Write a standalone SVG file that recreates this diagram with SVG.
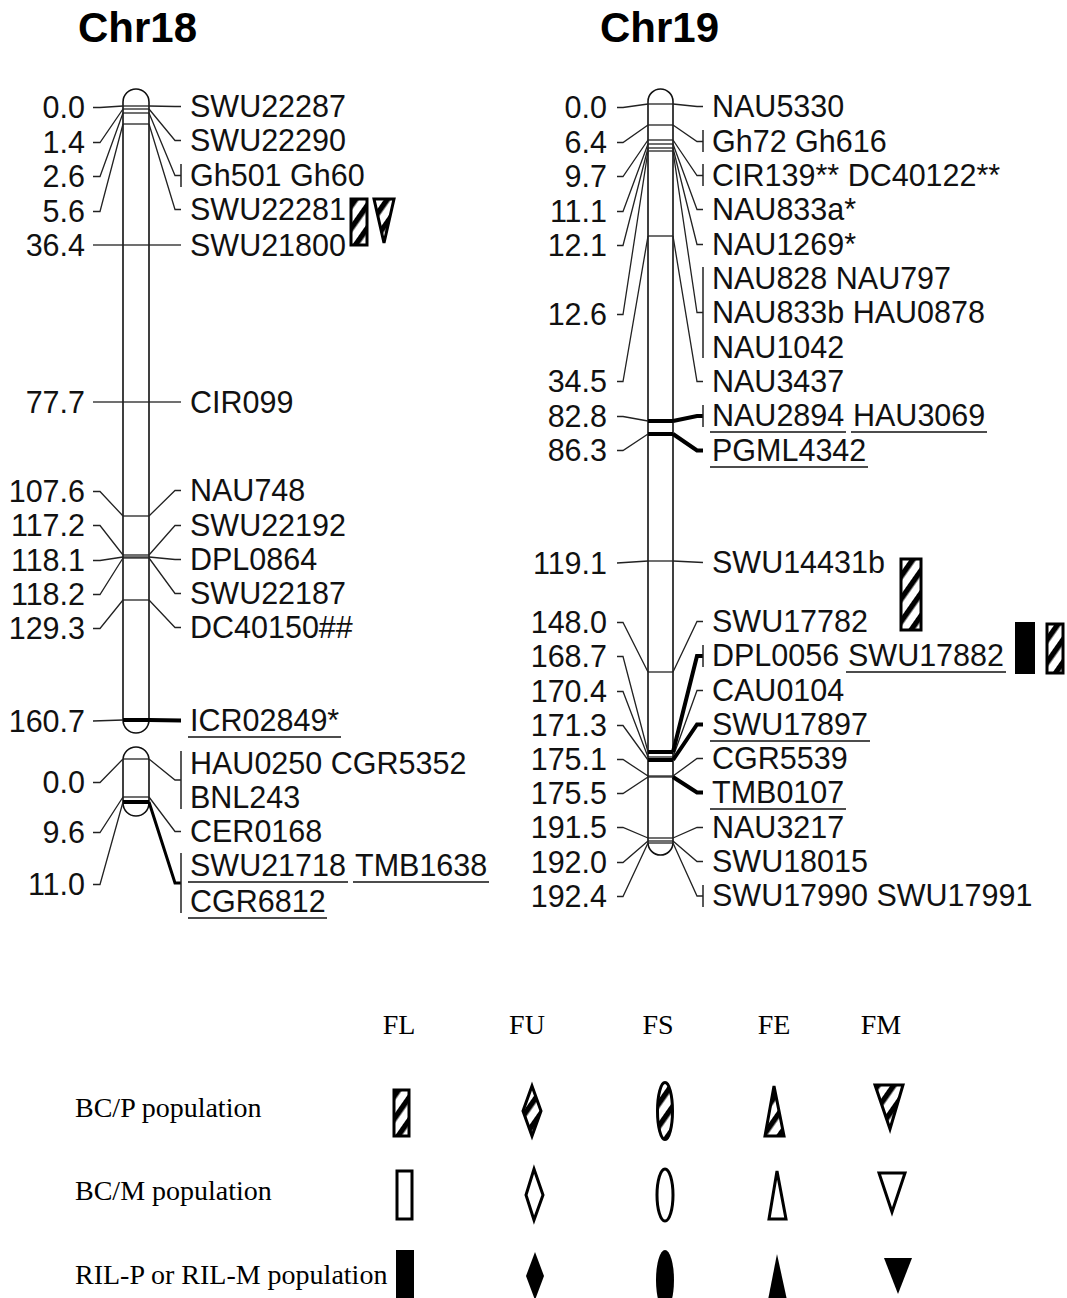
<svg xmlns="http://www.w3.org/2000/svg" width="1067" height="1298" viewBox="0 0 1067 1298">
<style>
.t{font-family:"Liberation Sans",Arial,sans-serif;font-size:30.5px;fill:#111}
.n{font-family:"Liberation Sans",Arial,sans-serif;font-size:30.5px;fill:#111;text-anchor:end}
.ttl{font-family:"Liberation Sans",Arial,sans-serif;font-size:42px;font-weight:bold;fill:#000}
.lg{font-family:"Liberation Serif","Times New Roman",serif;font-size:28px;fill:#000}
.lgc{font-family:"Liberation Serif","Times New Roman",serif;font-size:28px;fill:#000;text-anchor:middle}
.chr{fill:#fff;stroke:#111;stroke-width:1.6}
.ln{fill:none;stroke:#222;stroke-width:1.3}
.tk{fill:none;stroke:#000;stroke-width:4}
.ul{stroke:#111;stroke-width:1.6}
.bar{stroke:#222;stroke-width:1.5}
.hs{fill:url(#hatch);stroke:#000;stroke-width:3}
.op{fill:#fff;stroke:#000;stroke-width:3}
.bk{fill:#000;stroke:none}
</style>
<defs>
<pattern id="hatch" width="13" height="13" patternUnits="userSpaceOnUse" patternTransform="rotate(35)">
<rect width="13" height="13" fill="#fff"/><rect width="5.5" height="13" fill="#000"/>
</pattern>
</defs>

<text class="ttl" x="78" y="42">Chr18</text>
<text class="ttl" x="600" y="42">Chr19</text>

<g id="chr18">
<rect class="chr" x="123" y="89" width="26" height="644" rx="13"/>
<g class="ln">
<line x1="123" y1="106" x2="149" y2="106"/><line x1="123" y1="109" x2="149" y2="109"/>
<line x1="123" y1="113" x2="149" y2="113"/><line x1="123" y1="124" x2="149" y2="124"/>
<line x1="123" y1="245" x2="149" y2="245"/><line x1="123" y1="402" x2="149" y2="402"/>
<line x1="123" y1="516" x2="149" y2="516"/><line x1="123" y1="555" x2="149" y2="555"/>
<line x1="123" y1="557" x2="149" y2="557"/><line x1="123" y1="558" x2="149" y2="558"/>
<line x1="123" y1="600" x2="149" y2="600"/>
</g>
<line class="tk" x1="123" y1="720" x2="149" y2="720"/>
</g>

<g id="chr18b">
<rect class="chr" x="123" y="747" width="26" height="69" rx="13"/>
<line class="ln" x1="123" y1="759" x2="149" y2="759"/>
<line class="ln" x1="123" y1="797" x2="149" y2="797"/>
<line class="tk" x1="123" y1="802" x2="149" y2="802" stroke-width="3"/>
</g>

<g id="chr19">
<rect class="chr" x="648" y="89" width="25" height="766" rx="12.5"/>
<g class="ln">
<line x1="648" y1="104" x2="673" y2="104"/><line x1="648" y1="125" x2="673" y2="125"/>
<line x1="648" y1="140" x2="673" y2="140"/><line x1="648" y1="144" x2="673" y2="144"/>
<line x1="648" y1="148" x2="673" y2="148"/><line x1="648" y1="151" x2="673" y2="151"/>
<line x1="648" y1="236" x2="673" y2="236"/><line x1="648" y1="561" x2="673" y2="561"/>
<line x1="648" y1="672" x2="673" y2="672"/><line x1="648" y1="757" x2="673" y2="757"/>
<line x1="648" y1="776" x2="673" y2="776"/><line x1="648" y1="777" x2="673" y2="777"/>
<line x1="648" y1="838" x2="673" y2="838"/><line x1="648" y1="841" x2="673" y2="841"/>
<line x1="648" y1="843" x2="673" y2="843"/>
</g>
<g class="tk">
<line x1="648" y1="421" x2="673" y2="421"/><line x1="648" y1="434" x2="673" y2="434"/>
<line x1="648" y1="752" x2="673" y2="752"/><line x1="648" y1="760" x2="673" y2="760"/>
</g>
</g>

<g id="connectors">
<g class="ln">
<polyline points="93,107.5 100,107.5 123,106"/>
<polyline points="93,142.5 100,142.5 123,109"/>
<polyline points="93,176.5 100,176.5 123,113"/>
<polyline points="93,211.5 100,211.5 123,124"/>
<polyline points="93,245 123,245"/>
<polyline points="93,402 123,402"/>
<polyline points="93,491.5 100,491.5 123,516"/>
<polyline points="93,525.5 100,525.5 123,555"/>
<polyline points="93,560.5 100,560.5 123,557"/>
<polyline points="93,594.5 100,594.5 123,558"/>
<polyline points="93,628.5 100,628.5 123,600"/>
<polyline points="93,721 123,720"/>
<polyline points="149,106 175,106.5 181,106.5"/>
<polyline points="149,109 175,140.5 181,140.5"/>
<polyline points="149,113 175,175.5 181,175.5"/>
<polyline points="149,124 175,209.5 181,209.5"/>
<polyline points="149,245 181,245"/>
<polyline points="149,402 181,402"/>
<polyline points="149,516 175,490.5 181,490.5"/>
<polyline points="149,555 175,525.5 181,525.5"/>
<polyline points="149,557 175,559.5 181,559.5"/>
<polyline points="149,558 175,593.5 181,593.5"/>
<polyline points="149,600 175,627.5 181,627.5"/>
<polyline points="93,782.5 100,782.5 123,759"/>
<polyline points="93,832.5 100,832.5 123,797"/>
<polyline points="93,884.5 100,884.5 123,802"/>
<polyline points="149,759 175,780 181,780"/>
<polyline points="149,797 175,831.5 181,831.5"/>

<polyline points="617,107.5 623,107.5 648,104"/>
<polyline points="617,142.5 623,142.5 648,125"/>
<polyline points="617,176.5 623,176.5 648,140"/>
<polyline points="617,211.5 623,211.5 648,144"/>
<polyline points="617,245.5 623,245.5 648,148"/>
<polyline points="617,314.5 623,314.5 648,151"/>
<polyline points="617,381.5 623,381.5 648,236"/>
<polyline points="617,416.5 623,416.5 648,421"/>
<polyline points="617,450.5 623,450.5 648,434"/>
<polyline points="617,563 648,561"/>
<polyline points="617,622.5 623,622.5 648,672"/>
<polyline points="617,656.5 623,656.5 648,752"/>
<polyline points="617,691.5 623,691.5 648,757"/>
<polyline points="617,725.5 623,725.5 648,760"/>
<polyline points="617,759.5 623,759.5 648,776"/>
<polyline points="617,793.5 623,793.5 648,777"/>
<polyline points="617,827.5 623,827.5 648,838"/>
<polyline points="617,862.5 623,862.5 648,841"/>
<polyline points="617,896.5 623,896.5 648,843"/>
<polyline points="673,104 697,106.5 703,106.5"/>
<polyline points="673,125 697,141.5 703,141.5"/>
<polyline points="673,140 697,175.5 703,175.5"/>
<polyline points="673,144 697,209.5 703,209.5"/>
<polyline points="673,148 697,244.5 703,244.5"/>
<polyline points="673,151 697,312.5 703,312.5"/>
<polyline points="673,236 697,381.5 703,381.5"/>
<polyline points="673,561 703,562.5"/>
<polyline points="673,672 697,621.5 703,621.5"/>
<polyline points="673,757 697,690.5 703,690.5"/>
<polyline points="673,776 697,758.5 703,758.5"/>
<polyline points="673,838 697,827.5 703,827.5"/>
<polyline points="673,841 697,861.5 703,861.5"/>
<polyline points="673,843 697,896 703,896"/>
</g>
<g class="tk">
<polyline points="149,720 181,720.5"/>
<polyline points="149,802 175,883 181,883" stroke-width="3"/>
<polyline points="673,421 697,416 703,416"/>
<polyline points="673,434 697,450.5 703,450.5"/>
<polyline points="673,752 697,656 703,656"/>
<polyline points="673,760 697,724.5 703,724.5"/>
<polyline points="673,777 697,792.5 703,792.5"/>
</g>
<g class="bar">
<line x1="181" y1="164" x2="181" y2="187"/>
<line x1="181" y1="751" x2="181" y2="809"/>
<line x1="181" y1="853" x2="181" y2="913"/>
<line x1="703" y1="130" x2="703" y2="152"/>
<line x1="703" y1="164" x2="703" y2="186"/>
<line x1="703" y1="267" x2="703" y2="358"/>
<line x1="703" y1="405" x2="703" y2="427"/>
<line x1="703" y1="645" x2="703" y2="667"/>
<line x1="703" y1="885" x2="703" y2="907"/>
</g>
</g>

<g id="labels18">
<text class="n" x="85" y="118">0.0</text>
<text class="n" x="85" y="153">1.4</text>
<text class="n" x="85" y="187">2.6</text>
<text class="n" x="85" y="222">5.6</text>
<text class="n" x="85" y="256">36.4</text>
<text class="n" x="85" y="413">77.7</text>
<text class="n" x="85" y="502">107.6</text>
<text class="n" x="85" y="536">117.2</text>
<text class="n" x="85" y="571">118.1</text>
<text class="n" x="85" y="605">118.2</text>
<text class="n" x="85" y="639">129.3</text>
<text class="n" x="85" y="732">160.7</text>
<text class="n" x="85" y="793">0.0</text>
<text class="n" x="85" y="843">9.6</text>
<text class="n" x="85" y="895">11.0</text>
<text class="t" x="190" y="117">SWU22287</text>
<text class="t" x="190" y="151">SWU22290</text>
<text class="t" x="190" y="186">Gh501 Gh60</text>
<text class="t" x="190" y="220">SWU22281</text>
<text class="t" x="190" y="256">SWU21800</text>
<text class="t" x="190" y="413">CIR099</text>
<text class="t" x="190" y="501">NAU748</text>
<text class="t" x="190" y="536">SWU22192</text>
<text class="t" x="190" y="570">DPL0864</text>
<text class="t" x="190" y="604">SWU22187</text>
<text class="t" x="190" y="638">DC40150##</text>
<text class="t" x="190" y="731">ICR02849*</text>
<text class="t" x="190" y="774">HAU0250 CGR5352</text>
<text class="t" x="190" y="808">BNL243</text>
<text class="t" x="190" y="842">CER0168</text>
<text class="t" x="190" y="876">SWU21718</text>
<text class="t" x="355" y="876">TMB1638</text>
<text class="t" x="190" y="912">CGR6812</text>
<line class="ul" x1="188" y1="737" x2="341" y2="737"/>
<line class="ul" x1="188" y1="882" x2="348" y2="882"/>
<line class="ul" x1="353" y1="882" x2="489" y2="882"/>
<line class="ul" x1="188" y1="918" x2="327" y2="918"/>
</g>

<g id="labels19">
<text class="n" x="607" y="118">0.0</text>
<text class="n" x="607" y="153">6.4</text>
<text class="n" x="607" y="187">9.7</text>
<text class="n" x="607" y="222">11.1</text>
<text class="n" x="607" y="256">12.1</text>
<text class="n" x="607" y="325">12.6</text>
<text class="n" x="607" y="392">34.5</text>
<text class="n" x="607" y="427">82.8</text>
<text class="n" x="607" y="461">86.3</text>
<text class="n" x="607" y="574">119.1</text>
<text class="n" x="607" y="633">148.0</text>
<text class="n" x="607" y="667">168.7</text>
<text class="n" x="607" y="702">170.4</text>
<text class="n" x="607" y="736">171.3</text>
<text class="n" x="607" y="770">175.1</text>
<text class="n" x="607" y="804">175.5</text>
<text class="n" x="607" y="838">191.5</text>
<text class="n" x="607" y="873">192.0</text>
<text class="n" x="607" y="907">192.4</text>
<text class="t" x="712" y="117">NAU5330</text>
<text class="t" x="712" y="152">Gh72 Gh616</text>
<text class="t" x="712" y="186">CIR139** DC40122**</text>
<text class="t" x="712" y="220">NAU833a*</text>
<text class="t" x="712" y="255">NAU1269*</text>
<text class="t" x="712" y="289">NAU828 NAU797</text>
<text class="t" x="712" y="323">NAU833b HAU0878</text>
<text class="t" x="712" y="358">NAU1042</text>
<text class="t" x="712" y="392">NAU3437</text>
<text class="t" x="712" y="426">NAU2894</text>
<text class="t" x="853" y="426">HAU3069</text>
<text class="t" x="712" y="461">PGML4342</text>
<text class="t" x="712" y="573">SWU14431b</text>
<text class="t" x="712" y="632">SWU17782</text>
<text class="t" x="712" y="666">DPL0056</text>
<text class="t" x="848" y="666">SWU17882</text>
<text class="t" x="712" y="701">CAU0104</text>
<text class="t" x="712" y="735">SWU17897</text>
<text class="t" x="712" y="769">CGR5539</text>
<text class="t" x="712" y="803">TMB0107</text>
<text class="t" x="712" y="838">NAU3217</text>
<text class="t" x="712" y="872">SWU18015</text>
<text class="t" x="712" y="906">SWU17990 SWU17991</text>
<line class="ul" x1="710" y1="432" x2="846" y2="432"/>
<line class="ul" x1="851" y1="432" x2="987" y2="432"/>
<line class="ul" x1="710" y1="467" x2="868" y2="467"/>
<line class="ul" x1="846" y1="672" x2="1006" y2="672"/>
<line class="ul" x1="710" y1="741" x2="870" y2="741"/>
<line class="ul" x1="710" y1="809" x2="846" y2="809"/>
</g>

<g id="qtl18">
<rect class="hs" x="351" y="199" width="16" height="46"/>
<polygon class="hs" points="374,199 394,199 384,243"/>
</g>
<g id="qtl19">
<rect class="hs" x="901" y="559" width="20" height="71"/>
<rect class="bk" x="1015" y="622" width="20" height="52"/>
<rect class="hs" x="1047" y="624" width="16" height="49"/>
</g>

<g id="legend">
<text class="lgc" x="399" y="1034">FL</text>
<text class="lgc" x="527" y="1034">FU</text>
<text class="lgc" x="658" y="1034">FS</text>
<text class="lgc" x="774" y="1034">FE</text>
<text class="lgc" x="881" y="1034">FM</text>
<text class="lg" x="75" y="1117">BC/P population</text>
<text class="lg" x="75" y="1200">BC/M population</text>
<text class="lg" x="75" y="1284">RIL-P or RIL-M population</text>

<rect class="hs" x="394" y="1090" width="15" height="46"/>
<polygon class="hs" points="532,1086 541,1111 532,1136 523,1111"/>
<ellipse class="hs" cx="665" cy="1111" rx="7.5" ry="28.5"/>
<polygon class="hs" points="774,1086 784,1136 765,1136"/>
<polygon class="hs" points="875,1085 903,1085 890,1129"/>

<rect class="op" x="397" y="1171" width="15" height="48"/>
<polygon class="op" points="534,1169 543,1195 534,1220 526,1195"/>
<ellipse class="op" cx="665" cy="1195" rx="8" ry="26"/>
<polygon class="op" points="777,1171 786,1219 769,1219"/>
<polygon class="op" points="879,1173 905,1173 892,1212"/>

<rect class="bk" x="396" y="1250" width="18" height="48"/>
<polygon class="bk" points="535,1252 544,1276 535,1300 526,1276"/>
<ellipse class="bk" cx="665" cy="1280" rx="9" ry="30"/>
<polygon class="bk" points="777,1254 787,1300 768,1300"/>
<polygon class="bk" points="884,1258 912,1258 898,1294"/>
</g>
</svg>
